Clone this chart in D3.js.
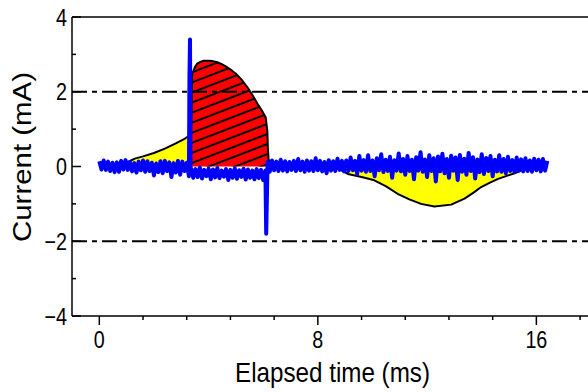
<!DOCTYPE html>
<html><head><meta charset="utf-8">
<script src="https://cdn.jsdelivr.net/npm/d3@7"></script>
<style>html,body{margin:0;padding:0;background:#fff;} svg{display:block;}</style>
</head><body><svg id="c" width="588" height="392"></svg>
<script>
// ---------- data ----------
const xMajorTicks = [0, 8, 16];
const xTickLabels = ["0", "8", "16"];
const xMinorTicks = [1.6, 3.2, 4.8, 6.4, 9.6, 11.2, 12.8, 14.4, 17.6];
const yMajorTicks = [-4, -2, 0, 2, 4];
const yTickLabels = ["\u22124", "\u22122", "0", "2", "4"];
const yMinorTicks = [-3, -1, 1, 3];
const refLines = [2, -2];

// blue measured trace, sampled every 0.08 ms from 0 ms
const blueStep = 0.08;
const blueValues = [
  0.14,-0.08,0.16,-0.09,0.13,-0.12,0.10,-0.15,0.11,-0.14,
  0.15,-0.08,0.17,-0.09,0.12,-0.13,0.09,-0.16,0.13,-0.10,
  0.16,-0.14,0.14,-0.12,0.10,-0.24,0.08,-0.15,0.14,-0.18,
  0.15,-0.12,0.11,-0.28,0.09,-0.16,0.15,-0.22,0.13,-0.12,
  0.10,-0.26,
  -0.05,-0.30,-0.07,-0.28,-0.03,-0.32,-0.09,-0.26,-0.06,-0.34,
  -0.08,-0.29,-0.04,-0.31,-0.11,-0.27,-0.07,-0.36,-0.09,-0.30,
  -0.05,-0.33,-0.10,-0.28,-0.06,-0.35,-0.08,-0.30,-0.11,-0.34,
  -0.07,-0.31,-0.09,-0.36,-0.11,
  0.12,-0.14,0.16,-0.10,0.13,-0.12,0.18,-0.11,0.14,-0.13,
  0.12,-0.09,0.15,-0.12,0.20,-0.10,0.13,-0.14,0.16,-0.11,
  0.14,-0.12,0.22,-0.10,0.15,-0.13,0.12,-0.18,0.17,-0.11,
  0.14,-0.12,0.21,-0.09,0.15,-0.13,
  0.16,-0.12,0.24,-0.10,0.15,-0.20,0.28,-0.11,0.17,-0.14,
  0.30,-0.12,0.16,-0.26,0.22,-0.10,0.33,-0.15,0.18,-0.12,
  0.26,-0.30,0.17,-0.11,0.35,-0.13,0.20,-0.22,0.28,-0.12,
  0.18,-0.34,0.25,-0.11,0.38,-0.14,0.19,-0.28,0.30,-0.12,
  0.22,-0.40,0.27,-0.13,0.34,-0.18,0.20,-0.30,0.29,-0.11,
  0.24,-0.36,0.31,-0.14,0.21,-0.22,0.36,-0.12,0.25,-0.32,
  0.19,-0.15,0.33,-0.20,0.23,-0.12,0.28,-0.26,0.18,-0.13,
  0.30,-0.14,0.20,-0.18,0.26,-0.12,0.17,-0.15,0.24,-0.11,
  0.19,-0.13,0.22,-0.12,0.16,-0.14,0.21,-0.10,0.18,-0.13,
  0.20,-0.11,0.15
];
// blue spikes (time ms, current mA)
const blueSpikeT = [3.30, 3.32, 3.34, 6.11];
const blueSpikeV = [2.4, 3.4, -0.2, -1.8];

// envelope: rising yellow lobe
const yellowT = [0.9, 1.1, 1.3, 1.6, 2.0, 2.4, 2.8, 3.1, 3.36];
const yellowV = [0.08, 0.14, 0.21, 0.27, 0.36, 0.48, 0.62, 0.73, 0.86];
// envelope: red hatched lobe
const redT = [3.36, 3.40, 3.5, 3.58, 3.7, 3.82, 4.0, 4.15, 4.32, 4.5, 4.69, 4.85, 4.99, 5.2, 5.42, 5.6, 5.79, 5.95, 6.09, 6.15, 6.17, 6.2, 6.4, 6.6, 6.8, 7.0];
const redV = [0.86, 2.48, 2.66, 2.75, 2.80, 2.83, 2.83, 2.82, 2.79, 2.73, 2.65, 2.57, 2.49, 2.33, 2.12, 1.92, 1.68, 1.50, 1.32, 0.96, 0.50, 0.16, 0.13, 0.11, 0.08, 0.04];
// envelope: negative yellow lobe
const negT = [8.6, 9.1, 9.6, 10.07, 10.5, 10.92, 11.35, 11.78, 12.27, 12.88, 13.37, 13.7, 13.98, 14.3, 14.6, 15.2, 15.8];
const negV = [0.0, -0.2, -0.28, -0.37, -0.53, -0.73, -0.88, -1.0, -1.07, -1.02, -0.86, -0.7, -0.55, -0.43, -0.33, -0.18, 0.0];

// ---------- chart ----------
const svg = d3.select("#c");
const x = d3.scaleLinear().domain([-1, 18]).range([72, 591]);
const y = d3.scaleLinear().domain([-4, 4]).range([316, 17]);
const FONT = "'Liberation Sans', Arial, Helvetica, sans-serif";

const defs = svg.append("defs");
const pat = defs.append("pattern").attr("id", "hatch")
  .attr("patternUnits", "userSpaceOnUse").attr("width", 20).attr("height", 9.4)
  .attr("patternTransform", "rotate(-21)");
pat.append("line").attr("x1", 0).attr("x2", 20).attr("y1", 4.7).attr("y2", 4.7)
  .attr("stroke", "#000").attr("stroke-width", 2);

const zip = (ts, vs) => ts.map((t, i) => [t, vs[i]]);
const area = d3.area().x(d => x(d[0])).y0(y(0)).y1(d => y(d[1]));
const line = d3.line().x(d => x(d[0])).y(d => y(d[1]));

const yellowPts = zip(yellowT, yellowV);
const redPts = zip(redT, redV);
const negPts = zip(negT, negV);

svg.append("path").attr("d", area(yellowPts)).attr("fill", "#ffff00");
svg.append("path").attr("d", area(negPts)).attr("fill", "#ffff00");
svg.append("path").attr("d", area(redPts)).attr("fill", "#ff0000");
svg.append("path").attr("d", area(redPts)).attr("fill", "url(#hatch)");

const envStyle = p => p.attr("fill", "none").attr("stroke", "#000").attr("stroke-width", 2).attr("stroke-linejoin", "round");
svg.append("path").attr("d", line(yellowPts.concat(redPts.slice(1)))).call(envStyle);
svg.append("path").attr("d", line(negPts)).call(envStyle);

// dash-dot reference lines
svg.selectAll(".ref").data(refLines).enter().append("line")
  .attr("x1", x(-1)).attr("x2", 588).attr("y1", d => y(d)).attr("y2", d => y(d))
  .attr("stroke", "#000").attr("stroke-width", 2).attr("stroke-dasharray", "15,5,5,5");

// blue trace
const bluePts = blueValues.map((v, i) => [i * blueStep, v])
  .concat(zip(blueSpikeT, blueSpikeV))
  .sort((a, b) => a[0] - b[0]);
svg.append("path").attr("d", line(bluePts)).attr("fill", "none")
  .attr("stroke", "#0000ff").attr("stroke-width", 4).attr("stroke-linejoin", "round");

// axes frame
const ax = svg.append("g").attr("stroke", "#000").attr("stroke-width", 1.5);
ax.append("line").attr("x1", x(-1)).attr("x2", x(-1)).attr("y1", y(4)).attr("y2", y(-4));
ax.append("line").attr("x1", x(-1)).attr("x2", 588).attr("y1", y(-4)).attr("y2", y(-4));
ax.append("line").attr("x1", x(-1)).attr("x2", 588).attr("y1", y(4)).attr("y2", y(4));
// y ticks (inward)
ax.selectAll(".ymaj").data(yMajorTicks).enter().append("line")
  .attr("x1", x(-1)).attr("x2", x(-1) + 9).attr("y1", d => y(d)).attr("y2", d => y(d));
ax.selectAll(".ymin").data(yMinorTicks).enter().append("line")
  .attr("x1", x(-1)).attr("x2", x(-1) + 4).attr("y1", d => y(d)).attr("y2", d => y(d));
// x ticks (outward)
ax.selectAll(".xmaj").data(xMajorTicks).enter().append("line")
  .attr("x1", d => x(d)).attr("x2", d => x(d)).attr("y1", y(-4)).attr("y2", y(-4) + 9);
ax.selectAll(".xmin").data(xMinorTicks).enter().append("line")
  .attr("x1", d => x(d)).attr("x2", d => x(d)).attr("y1", y(-4)).attr("y2", y(-4) + 4);

// tick labels
svg.selectAll(".ylab").data(yMajorTicks).enter().append("text")
  .attr("transform", d => `translate(67,${y(d) + 8.5}) scale(0.84,1)`)
  .attr("text-anchor", "end").attr("font-family", FONT).attr("font-size", 23.5)
  .attr("fill", "#000").text((d, i) => yTickLabels[i]);
svg.selectAll(".xlab").data(xMajorTicks).enter().append("text")
  .attr("transform", d => `translate(${x(d)},348) scale(0.84,1)`)
  .attr("text-anchor", "middle").attr("font-family", FONT).attr("font-size", 23.5)
  .attr("fill", "#000").text((d, i) => xTickLabels[i]);

// axis titles
svg.append("text").attr("x", 332.5).attr("y", 381.5).attr("text-anchor", "middle")
  .attr("font-family", FONT).attr("font-size", 27.5).attr("fill", "#000")
  .attr("textLength", 195).attr("lengthAdjust", "spacingAndGlyphs")
  .text("Elapsed time (ms)");
svg.append("text").attr("transform", "translate(31,157) rotate(-90)").attr("text-anchor", "middle")
  .attr("font-family", FONT).attr("font-size", 26.5).attr("fill", "#000")
  .attr("textLength", 170).attr("lengthAdjust", "spacingAndGlyphs")
  .text("Current (mA)");
</script></body></html>
